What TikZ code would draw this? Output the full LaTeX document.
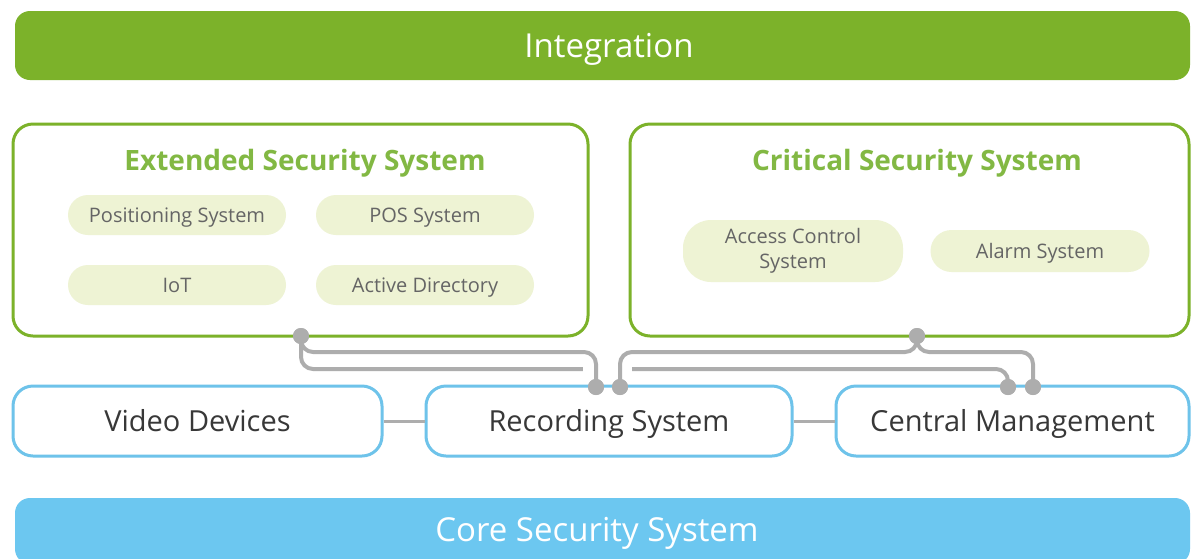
\documentclass[tikz,border=0pt]{standalone}
\usepackage{fontspec}
\setmainfont{Open Sans}
\definecolor{intgreen}{HTML}{7CB22A}
\definecolor{titlegreen}{HTML}{82B843}
\definecolor{pillfill}{HTML}{EEF3D4}
\definecolor{pilltext}{HTML}{656565}
\definecolor{coreblue}{HTML}{6CC7F0}
\definecolor{boxblue}{HTML}{6EC3EA}
\definecolor{conngray}{HTML}{ADADAD}
\definecolor{darktext}{HTML}{383838}
\tikzset{
  bar/.style={fill=#1, rounded corners=15pt, minimum width=1175pt, inner sep=0pt, text=white, font=\fontsize{33}{40}\selectfont},
  bartext/.style={text=white, font=\fontsize{33}{40}\selectfont, inner sep=0pt, text height=23.5pt, text depth=0pt},
  greenbox/.style={draw=intgreen, line width=3pt, rounded corners=20pt, minimum height=212pt, fill=white, inner sep=0pt},
  gtitle/.style={text=titlegreen, font=\bfseries\fontsize{28}{32}\selectfont, inner sep=0pt, text height=20pt, text depth=0pt},
  pill/.style={fill=pillfill, rounded corners=20pt, minimum width=218pt, minimum height=40pt, inner sep=0pt, text=pilltext, align=center, font=\fontsize{20}{25}\selectfont},
  pilltxt/.style={text height=14.3pt, text depth=0pt},
  bluebox/.style={draw=boxblue, line width=3pt, rounded corners=20pt, minimum height=70pt, fill=white, inner sep=0pt, text=darktext, font=\fontsize{29}{34}\selectfont, text height=20.7pt, text depth=0pt},
  dot/.style={circle, fill=conngray, minimum size=16pt, inner sep=0pt},
  conn/.style={draw=conngray, line width=4pt, rounded corners=12pt},
  link/.style={draw=conngray, line width=3pt}
}
\begin{document}
\begin{tikzpicture}[x=1pt,y=-1pt]
\useasboundingbox[fill=white] (0,0) rectangle (1192,558);
% top bar
\node[bar=intgreen, minimum height=69pt] (integ) at (602.5,45.5) {};
\node[bartext] (integtext) at (609,45.5) {Integration};
% green boxes
\node[greenbox, minimum width=575pt] (ext) at (300.5,230) {};
\node[greenbox, minimum width=559pt] (crit) at (909.5,230) {};
\node[gtitle] (exttitle) at (305,160) {Extended Security System};
\node[gtitle] (crittitle) at (917,160) {Critical Security System};
\node[pill, pilltxt] (pos1) at (177,215) {Positioning System};
\node[pill, pilltxt] (pos2) at (425,215) {POS System};
\node[pill, pilltxt] (iot) at (177,285) {IoT};
\node[pill, pilltxt] (ad) at (425,285) {Active Directory};
\node[pill, minimum width=220pt, minimum height=62pt, rounded corners=28pt] (acs) at (793,251) {Access Control\\System};
\node[pill, pilltxt, minimum width=219pt, minimum height=42pt, rounded corners=21pt] (alarm) at (1040,251) {Alarm System};
% bottom row
\node[bluebox, minimum width=369pt] (vid) at (197.5,421) {Video Devices};
\node[bluebox, minimum width=366pt] (rec) at (609,421) {Recording System};
\node[bluebox, minimum width=353pt] (cen) at (1012.5,421) {Central Management};
\draw[link] (vid.east) -- (rec.west);
\draw[link] (rec.east) -- (cen.west);
% core bar
\begin{scope}
\clip (0,0) rectangle (1192,558);
\node[bar=coreblue, minimum height=66pt] (core) at (602.5,531) {};
\end{scope}
\node[bartext] (coretext) at (597,530) {Core Security System};
% connector dots
\coordinate (ya) at (0,352);
\coordinate (yb) at (0,369);
\node[dot] (ed) at (301,336) {};
\node[dot] (cd) at (917,336) {};
\node[dot] (r1) at (596,387) {};
\node[dot] (r2) at (620,387) {};
\node[dot] (c1) at (1008,387) {};
\node[dot] (c2) at (1033,387) {};
% connectors
\draw[conn] (ed.center) -- (ed |- yb) -- (c1 |- yb) -- (c1.center);
\draw[draw=white, line width=7pt] (583,369) -- (632,369);
\draw[conn] (ed.center) -- (ed |- ya) -- (r1 |- ya) -- (r1.center);
\draw[conn] (cd.center) -- (cd |- ya) -- (r2 |- ya) -- (r2.center);
\draw[conn] (cd.center) -- (cd |- ya) -- (c2 |- ya) -- (c2.center);
\node[dot] at (ed) {};
\node[dot] at (cd) {};
\node[dot] at (r1) {};
\node[dot] at (r2) {};
\node[dot] at (c1) {};
\node[dot] at (c2) {};
\end{tikzpicture}
\end{document}
